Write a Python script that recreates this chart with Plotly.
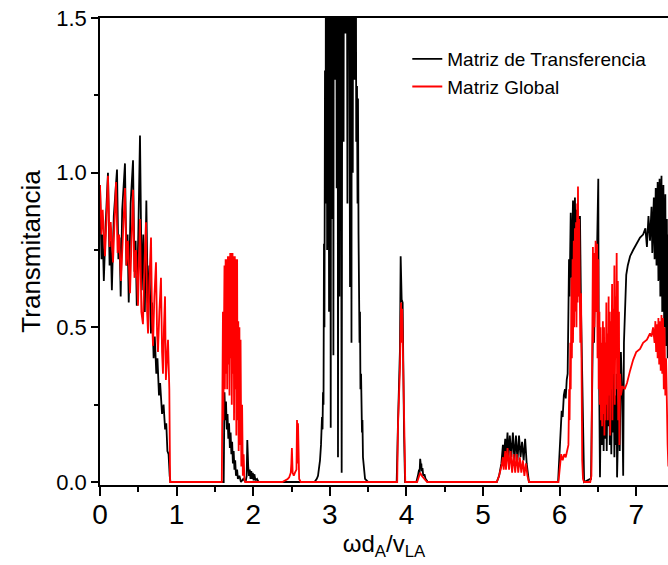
import plotly.graph_objects as go

# ---------------- data ----------------
# Matriz de Transferencia (black), bands of (x, T) pairs
transfer_band1 = [(0.00,0.96),(0.02,0.72),(0.035,0.80),(0.05,0.65),(0.075,0.84),(0.104,1.00),(0.125,0.70),
    (0.14,0.78),(0.155,0.62),(0.18,0.86),(0.222,1.01),(0.24,0.72),(0.255,0.79),(0.27,0.60),(0.29,0.88),
    (0.326,1.03),(0.345,0.70),(0.36,0.80),(0.375,0.58),(0.40,0.90),(0.431,1.04),(0.45,0.68),(0.465,0.78),
    (0.48,0.57),(0.50,0.80),(0.522,1.12),(0.545,0.62),(0.565,0.80),(0.585,0.55),(0.605,0.91),(0.625,0.55),
    (0.645,0.70),(0.665,0.48),(0.68,0.58),(0.70,0.40),(0.715,0.47),(0.735,0.35),(0.75,0.40),(0.77,0.28),
    (0.785,0.32),(0.81,0.22),(0.83,0.25),(0.85,0.17),(0.865,0.19),(0.88,0.10),(0.895,0.09),(0.91,0.02),
    (0.92,0.0),(1.60,0.0)]
transfer_band2 = [(1.615,0.0),(1.625,0.29),(1.635,0.20),(1.645,0.26),(1.655,0.17),(1.665,0.22),(1.675,0.14),
    (1.685,0.19),(1.695,0.11),(1.705,0.16),(1.715,0.09),(1.725,0.13),(1.735,0.06),(1.745,0.10),(1.755,0.04),
    (1.765,0.07),(1.775,0.02),(1.79,0.04),(1.80,0.01),(1.82,0.02),(1.84,0.0),(1.87,0.01),(1.90,0.0),
    (1.915,0.02),(1.923,0.136),(1.935,0.05),(1.945,0.02),(1.955,0.04),(1.965,0.01),(1.975,0.035),
    (1.985,0.01),(1.995,0.03),(2.005,0.005),(2.015,0.025),(2.03,0.005),(2.05,0.01),(2.07,0.0),(2.80,0.0)]
transfer_band3 = [(2.83,0.01),(2.846,0.02),(2.86,0.05),(2.872,0.07),(2.885,0.12),(2.898,0.21),(2.905,0.17),
    (2.911,0.29),(2.918,0.25),(2.924,0.77),(2.93,0.50),(2.937,1.33),(2.945,0.90),(2.955,3.0),(2.965,0.75),
    (2.975,3.0),(2.99,0.55),(3.00,3.0),(3.012,0.175),(3.022,3.0),(3.033,0.85),(3.04,3.0),(3.047,0.41),
    (3.055,3.0),(3.067,1.3),(3.078,3.0),(3.09,0.95),(3.10,3.0),(3.107,0.08),(3.115,2.0),(3.125,0.6),
    (3.135,3.0),(3.155,0.03),(3.17,3.0),(3.18,1.1),(3.19,3.0),(3.205,1.45),(3.215,3.0),(3.23,0.9),
    (3.24,3.0),(3.255,1.5),(3.264,0.63),(3.272,3.0),(3.283,0.45),(3.29,3.0),(3.30,1.0),(3.31,3.0),
    (3.322,1.3),(3.332,3.0),(3.345,1.1),(3.355,1.28),(3.362,0.9),(3.368,1.24),(3.375,0.8),(3.381,0.65),
    (3.388,0.45),(3.394,0.55),(3.40,0.30),(3.408,0.35),(3.42,0.16),(3.426,0.2),(3.433,0.08),(3.445,0.04),
    (3.46,0.01),(3.50,0.0),(3.873,0.0)]
transfer_band4 = [(3.89,0.19),(3.916,0.43),(3.925,0.73),(3.938,0.59),(3.951,0.58),(3.956,0.37),(3.969,0.16),
    (3.982,0.0),(4.13,0.0),(4.15,0.02),(4.165,0.04),(4.172,0.03),(4.18,0.075),(4.19,0.05),(4.195,0.06),
    (4.20,0.035),(4.21,0.045),(4.22,0.02),(4.235,0.025),(4.25,0.01),(4.28,0.0),(5.18,0.0)]
transfer_band5 = [(5.21,0.02),(5.24,0.06),(5.26,0.12),(5.27,0.07),(5.29,0.14),(5.30,0.08),(5.32,0.16),
    (5.33,0.07),(5.35,0.15),(5.37,0.08),(5.39,0.16),(5.41,0.07),(5.43,0.15),(5.45,0.07),(5.47,0.15),
    (5.49,0.08),(5.51,0.13),(5.53,0.07),(5.55,0.14),(5.57,0.06),(5.585,0.02),(5.60,0.0),(5.98,0.0)]
transfer_band6 = [(5.99,0.05),(6.005,0.14),(6.015,0.20),(6.027,0.23),(6.04,0.21),(6.055,0.28),(6.07,0.30),
    (6.08,0.27),(6.093,0.33),(6.105,0.35),(6.115,0.55),(6.123,0.72),(6.13,0.60),(6.145,0.87),(6.155,0.66),
    (6.165,0.85),(6.175,0.91),(6.185,0.70),(6.20,0.92),(6.21,0.72),(6.225,0.88),(6.235,0.65),(6.25,0.86),
    (6.26,0.60),(6.266,0.86),(6.28,0.55),(6.29,0.40),(6.30,0.20),(6.31,0.05),(6.32,0.0),(6.40,0.01),
    (6.41,0.01),(6.425,0.30),(6.44,0.60),(6.45,0.45),(6.465,0.70),(6.475,0.55),(6.49,0.80),(6.505,0.98),
    (6.51,0.50),(6.52,0.15),(6.527,0.015),(6.535,0.20),(6.545,0.35),(6.555,0.12),(6.565,0.40),(6.575,0.10),
    (6.585,0.30),(6.595,0.14),(6.605,0.45),(6.615,0.10),(6.625,0.33),(6.635,0.18),(6.645,0.42),(6.655,0.12),
    (6.665,0.36),(6.675,0.09),(6.685,0.30),(6.695,0.16),(6.705,0.40),(6.715,0.08),(6.725,0.28),(6.735,0.12),
    (6.745,0.35),(6.75,0.015),(6.76,0.20),(6.775,0.30),(6.785,0.10),(6.80,0.42),(6.815,0.30),(6.83,0.02),
    (6.84,0.45),(6.855,0.59),(6.87,0.67),(6.89,0.70),(6.92,0.73),(6.96,0.75),(7.00,0.77),(7.05,0.79),
    (7.09,0.80),(7.12,0.82),(7.14,0.76),(7.16,0.86),(7.18,0.78),(7.20,0.89),(7.21,0.74),(7.23,0.92),
    (7.24,0.72),(7.255,0.95),(7.265,0.70),(7.28,0.97),(7.29,0.65),(7.305,0.98),(7.315,0.60),(7.33,0.99),
    (7.34,0.55),(7.355,0.96),(7.365,0.50),(7.38,0.93),(7.39,0.44),(7.40,0.85),(7.41,0.40),(7.42,0.80)]

# Matriz Global (red)
global_band1 = [(0.0,0.96),(0.02,0.80),(0.035,0.88),(0.065,0.73),(0.085,0.85),(0.104,0.99),(0.125,0.76),
    (0.14,0.84),(0.17,0.71),(0.19,0.82),(0.209,0.97),(0.23,0.74),(0.25,0.80),(0.274,0.65),(0.30,0.82),
    (0.326,0.95),(0.345,0.70),(0.365,0.78),(0.392,0.61),(0.41,0.78),(0.431,0.945),(0.45,0.66),(0.47,0.75),
    (0.496,0.57),(0.522,0.85),(0.54,0.55),(0.561,0.51),(0.58,0.70),(0.60,0.84),(0.615,0.55),(0.627,0.48),
    (0.645,0.65),(0.666,0.79),(0.68,0.52),(0.692,0.44),(0.71,0.60),(0.731,0.71),(0.745,0.48),(0.757,0.42),
    (0.775,0.55),(0.796,0.66),(0.81,0.42),(0.822,0.35),(0.835,0.50),(0.849,0.60),(0.86,0.33),(0.875,0.40),
    (0.888,0.46),(0.905,0.30),(0.915,0.0),(1.59,0.0)]
global_band2 = [(1.595,0.43),(1.600,0.15),(1.605,0.55),(1.610,0.20),(1.615,0.66),(1.620,0.25),(1.625,0.70),
    (1.630,0.30),(1.640,0.72),(1.645,0.35),(1.655,0.72),(1.660,0.30),(1.670,0.73),(1.675,0.38),(1.685,0.73),
    (1.690,0.28),(1.700,0.74),(1.705,0.40),(1.715,0.74),(1.720,0.25),(1.730,0.74),(1.735,0.35),(1.745,0.73),
    (1.750,0.20),(1.760,0.73),(1.765,0.30),(1.775,0.72),(1.780,0.15),(1.790,0.72),(1.795,0.20),(1.805,0.52),
    (1.810,0.10),(1.820,0.50),(1.825,0.12),(1.835,0.46),(1.845,0.05),(1.855,0.25),(1.865,0.02),(1.875,0.09),
    (1.885,0.01),(1.895,0.0),(2.38,0.0),(2.42,0.005),(2.45,0.01),(2.47,0.015),(2.49,0.03),(2.498,0.06),
    (2.505,0.11),(2.515,0.03),(2.53,0.02),(2.545,0.03),(2.565,0.04),(2.572,0.20),(2.578,0.06),(2.585,0.19),
    (2.595,0.04),(2.60,0.01),(2.62,0.0),(3.88,0.0)]
global_band3 = [(3.89,0.18),(3.916,0.37),(3.93,0.58),(3.936,0.45),(3.945,0.56),(3.955,0.40),(3.97,0.27),
    (3.985,0.0),(4.14,0.0),(4.16,0.02),(4.18,0.03),(4.20,0.02),(4.22,0.015),(4.27,0.0),(5.18,0.0)]
global_band4 = [(5.21,0.02),(5.24,0.05),(5.26,0.08),(5.27,0.04),(5.29,0.10),(5.30,0.04),(5.32,0.11),
    (5.34,0.04),(5.36,0.10),(5.38,0.03),(5.40,0.09),(5.42,0.03),(5.44,0.09),(5.46,0.03),(5.48,0.08),
    (5.50,0.03),(5.52,0.07),(5.54,0.02),(5.56,0.06),(5.58,0.02),(5.60,0.0),(5.985,0.0)]
global_band5 = [(6.00,0.05),(6.02,0.09),(6.04,0.07),(6.06,0.09),(6.08,0.08),(6.10,0.10),(6.115,0.12),
    (6.125,0.30),(6.13,0.20),(6.14,0.45),(6.145,0.30),(6.155,0.66),(6.16,0.40),(6.17,0.72),(6.175,0.45),
    (6.185,0.78),(6.19,0.50),(6.20,0.82),(6.205,0.55),(6.215,0.84),(6.22,0.50),(6.23,0.90),(6.235,0.58),
    (6.24,0.955),(6.245,0.60),(6.255,0.85),(6.26,0.50),(6.265,0.75),(6.27,0.45),(6.28,0.61),(6.285,0.39),
    (6.295,0.07),(6.305,0.01),(6.32,0.0),(6.40,0.0),(6.415,0.02),(6.425,0.40),(6.435,0.76),(6.44,0.45),
    (6.45,0.74),(6.455,0.50),(6.47,0.78),(6.475,0.55),(6.49,0.77),(6.495,0.40),(6.505,0.72),(6.51,0.30),
    (6.52,0.55),(6.525,0.25),(6.535,0.50),(6.54,0.20),(6.55,0.45),(6.555,0.18),(6.565,0.52),(6.57,0.22),
    (6.58,0.50),(6.585,0.15),(6.595,0.45),(6.60,0.20),(6.61,0.58),(6.615,0.25),(6.625,0.48),(6.63,0.20),
    (6.64,0.60),(6.645,0.28),(6.655,0.55),(6.66,0.15),(6.67,0.52),(6.675,0.30),(6.685,0.64),(6.69,0.20),
    (6.70,0.56),(6.705,0.35),(6.715,0.70),(6.72,0.25),(6.73,0.60),(6.735,0.40),(6.745,0.74),(6.75,0.30),
    (6.76,0.65),(6.765,0.20),(6.775,0.55),(6.78,0.12),(6.79,0.35),(6.80,0.28),(6.82,0.31),(6.85,0.30),
    (6.88,0.32),(6.92,0.36),(6.96,0.395),(7.00,0.42),(7.05,0.43),(7.09,0.45),(7.14,0.46),(7.18,0.48),
    (7.20,0.47),(7.22,0.50),(7.24,0.45),(7.25,0.52),(7.26,0.42),(7.27,0.51),(7.28,0.40),(7.29,0.53),
    (7.30,0.38),(7.31,0.52),(7.32,0.36),(7.33,0.54),(7.34,0.35),(7.35,0.53),(7.36,0.30),(7.37,0.50),
    (7.38,0.28),(7.39,0.40),(7.40,0.18),(7.41,0.12),(7.42,0.05)]

x_ticks = [0, 1, 2, 3, 4, 5, 6, 7]
x_tick_labels = ["0", "1", "2", "3", "4", "5", "6", "7"]
y_ticks = [0.0, 0.5, 1.0, 1.5]
y_tick_labels = ["0.0", "0.5", "1.0", "1.5"]


def unzip(*bands):
    xs, ys = [], []
    for b in bands:
        for x, y in b:
            xs.append(x)
            ys.append(y)
    return xs, ys


tx, ty = unzip(transfer_band1, transfer_band2, transfer_band3, transfer_band4, transfer_band5, transfer_band6)
gx, gy = unzip(global_band1, global_band2, global_band3, global_band4, global_band5)

FONT = "Liberation Sans, Arial, sans-serif"

fig = go.Figure()
fig.add_trace(go.Scatter(x=tx, y=ty, mode="lines", name="Matriz de Transferencia",
                         line=dict(color="#000000", width=1.8)))
fig.add_trace(go.Scatter(x=gx, y=gy, mode="lines", name="Matriz Global",
                         line=dict(color="#ff0000", width=1.8)))

fig.update_layout(
    width=668, height=565,
    margin=dict(l=100, r=0, t=18, b=80),
    paper_bgcolor="white", plot_bgcolor="white",
    font=dict(family=FONT, color="black"),
    showlegend=True,
    legend=dict(x=0.541, y=0.953, xanchor="left", yanchor="top",
                font=dict(size=19, family=FONT), bgcolor="rgba(0,0,0,0)",
                itemwidth=30, tracegroupgap=0),
    xaxis=dict(range=[0, 7.415], showline=True, linecolor="black", linewidth=1.5, mirror=True,
               ticks="outside", ticklen=9, tickwidth=1.5, tickcolor="black",
               tickvals=x_ticks, ticktext=x_tick_labels,
               minor=dict(dtick=0.5, tick0=0, ticks="outside", ticklen=5, tickwidth=1.5, tickcolor="black", showgrid=False),
               showgrid=False, zeroline=False, ticklabelstandoff=-5,
               tickfont=dict(size=28, family=FONT),
               title=dict(text="\u03c9d<sub>A</sub>/v<sub>LA</sub>", font=dict(size=24, family=FONT), standoff=4)),
    yaxis=dict(range=[-0.0097, 1.5], showline=True, linecolor="black", linewidth=1.5, mirror=False,
               ticks="outside", ticklen=7, tickwidth=1.5, tickcolor="black",
               tickvals=y_ticks, ticktext=y_tick_labels,
               minor=dict(dtick=0.25, tick0=0, ticks="outside", ticklen=4, tickwidth=1.5, tickcolor="black", showgrid=False),
               showgrid=False, zeroline=False,
               tickfont=dict(size=22, family=FONT),
               title=dict(text="Transmitancia", font=dict(size=26, family=FONT), standoff=8)),
)

fig.write_html("out.html")
